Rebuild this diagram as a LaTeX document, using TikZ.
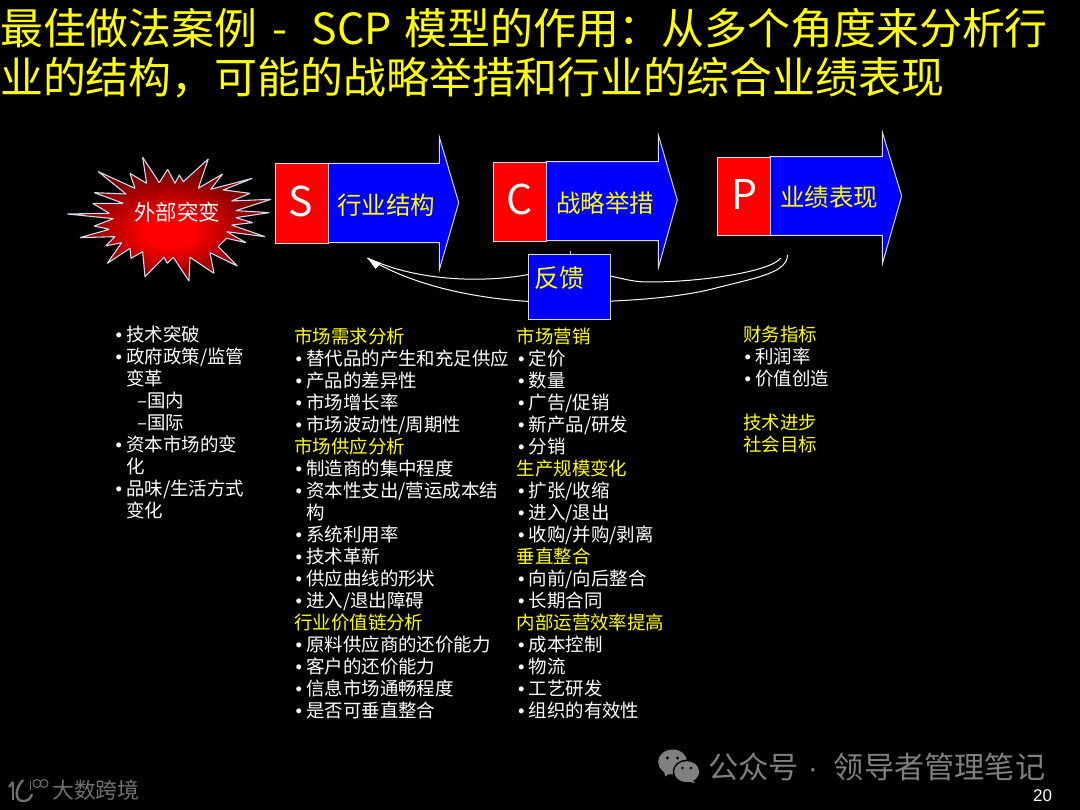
\documentclass[tikz,border=0pt]{standalone}
\usepackage{fontspec}
\setmainfont{Noto Sans CJK SC}
\newfontfamily\arialf{Liberation Sans}
\definecolor{ygl}{HTML}{FFFF00}
\definecolor{bluebg}{HTML}{0000FF}
\definecolor{edgeg}{HTML}{D8D8E8}
\definecolor{wmg}{HTML}{808080}
\definecolor{wmd}{HTML}{707070}
\definecolor{bursta}{RGB}{255,0,0}
\definecolor{burstb}{RGB}{130,0,0}
\definecolor{burstc}{RGB}{60,0,0}
\pgfdeclareradialshading{burstsh}{\pgfpoint{0bp}{-6bp}}{color(0bp)=(bursta);color(6bp)=(bursta);color(21bp)=(burstb);color(31bp)=(burstc);color(50bp)=(burstc)}
\newcommand{\bl}[1]{\makebox[12pt][l]{\hspace*{1.5pt}\textcolor{white}{\arialf•}}#1}
\newcommand{\hd}[1]{\textcolor{ygl}{#1}}
\newcommand{\cn}[1]{\hspace*{12pt}#1}
\tikzset{
 x=1pt,y=-1pt,
 arrowbody/.style={fill=bluebg,draw=edgeg,line width=1pt,line join=miter},
 letterbox/.style={fill=red,draw=edgeg,line width=1pt},
 letterlab/.style={text=white,font=\fontsize{41}{41}\selectfont,inner sep=0pt},
 armlab/.style={text=ygl,font=\fontsize{24.5}{26}\selectfont,inner sep=0pt},
 listcol/.style={text=white,anchor=north west,align=left,inner sep=0pt,font=\fontsize{18.45}{22}\selectfont},
 titleline/.style={text=ygl,anchor=west,inner sep=0pt,font=\fontsize{42.9}{44}\selectfont},
 curve/.style={draw=white,line width=1pt},
 wm/.style={text=wmg,inner sep=0pt},
}
\begin{document}
\begin{tikzpicture}
\useasboundingbox (0,0) rectangle (1080,810);
\fill[black] (0,0) rectangle (1080,810);
\node[titleline] (t1) at (0,28) {最佳做法案例\hspace*{5pt} - \hspace*{15pt}SCP\hspace*{3pt} 模型的作用：从多个角度来分析行};
\node[titleline] (t2) at (0,78) {业的结构，可能的战略举措和行业的综合业绩表现};
% burst
\begin{scope}[xshift=50pt,yshift=-120pt,x=0.3333pt,y=-0.3333pt]
\path[shade,shading=burstsh,draw=edgeg,line width=1.1pt,line join=bevel]
 (52,282)--(190,296)--(133,318)--(178,328)--(90,353)--(195,350)--(167,378)--(215,368)--(172,430)--(240,385)--(243,415)--(278,395)--(285,470)--(342,412)--(352,430)--(370,412)--(417,483)--(420,412)--(492,460)--(480,398)--(562,438)--(505,380)--(530,355)--(588,368)--(530,335)--(645,350)--(545,315)--(608,308)--(558,293)--(658,278)--(558,272)--(663,238)--(545,243)--(600,220)--(520,210)--(607,175)--(482,208)--(518,162)--(445,205)--(475,117)--(400,185)--(388,165)--(375,190)--(353,148)--(328,188)--(278,112)--(290,190)--(240,160)--(255,205)--(145,155)--(228,222)--(133,218)--(220,250)--(128,250)--(178,280)--cycle;
\end{scope}
\node[text=white,inner sep=0pt,font=\fontsize{21.5}{22}\selectfont] (burst) at (177,212) {外部突变};
% curves
\coordinate (tip) at (367.5,258);
\coordinate (ru) at (781,258);
\coordinate (rl) at (787.5,255);
\draw[curve] (tip) .. controls (425,285) and (500,282) .. (540,272) .. controls (600,266) and (620,283) .. (650,282) .. controls (700,282) and (770,272) .. (ru);
\draw[curve] (tip) .. controls (420,290) and (490,300) .. (540,302) .. controls (620,303) and (680,298) .. (720,287) .. controls (760,277) and (787,272) .. (rl);
\fill[white] (tip) -- (381,263) -- (375.5,269) -- cycle;
% S
\path[arrowbody] (327.7,163.3)--(439.3,163.3)--(439.3,137)--(458.7,202.7)--(439.3,270)--(439.3,242.7)--(327.7,242.7)--cycle;
\node[letterbox,minimum width=52.7pt,minimum height=79.4pt,anchor=north west,inner sep=0pt] (sbox) at (275,163.3) {};
\node[letterlab] (sl) at (300.5,201) {S};
\node[armlab] (sarm) at (386,205) {行业结构};
% C
\path[arrowbody] (546,161.7)--(658.3,161.7)--(658.3,135)--(677.3,200)--(658.3,268)--(658.3,240.7)--(546,240.7)--cycle;
\node[letterbox,minimum width=52.7pt,minimum height=79pt,anchor=north west,inner sep=0pt] (cbox) at (493.3,161.7) {};
\node[letterlab] (cl) at (520,199) {C};
\node[armlab] (carm) at (605,203) {战略举措};
% P
\path[arrowbody] (770,156.7)--(882.3,156.7)--(882.3,132)--(901.7,196)--(882.3,264)--(882.3,235.3)--(770,235.3)--cycle;
\node[letterbox,minimum width=52.7pt,minimum height=78.6pt,anchor=north west,inner sep=0pt] (pbox) at (717.3,156.7) {};
\node[letterlab] (pl) at (744,194) {P};
\node[armlab] (parm) at (829,197) {业绩表现};
% feedback
\draw[edgeg,line width=.8pt] (570.7,251.5)--(570.7,254);
\node[fill=bluebg,draw=edgeg,line width=1pt,anchor=north west,minimum width=82pt,minimum height=64.7pt,inner sep=0pt] (fb) at (528.3,254) {};
\node[text=ygl,inner sep=0pt,font=\fontsize{25}{26}\selectfont] (fbl) at (559.5,278) {反馈};
% lists
\node[listcol] (c1) at (114,326) {\bl{技术突破}\\\bl{政府政策/监管}\\\cn{变革}\\\hspace*{23pt}–国内\\\hspace*{23pt}–国际\\\bl{资本市场的变}\\\cn{化}\\\bl{品味/生活方式}\\\cn{变化}};
\node[listcol] (c2) at (294,328) {\hd{市场需求分析}\\\bl{替代品的产生和充足供应}\\\bl{产品的差异性}\\\bl{市场增长率}\\\bl{市场波动性/周期性}\\\hd{市场供应分析}\\\bl{制造商的集中程度}\\\bl{资本性支出/营运成本结}\\\cn{构}\\\bl{系统利用率}\\\bl{技术革新}\\\bl{供应曲线的形状}\\\bl{进入/退出障碍}\\\hd{行业价值链分析}\\\bl{原料供应商的还价能力}\\\bl{客户的还价能力}\\\bl{信息市场通畅程度}\\\bl{是否可垂直整合}};
\node[listcol] (c3) at (516.5,328) {\hd{市场营销}\\\bl{定价}\\\bl{数量}\\\bl{广告/促销}\\\bl{新产品/研发}\\\bl{分销}\\\hd{生产规模变化}\\\bl{扩张/收缩}\\\bl{进入/退出}\\\bl{收购/并购/剥离}\\\hd{垂直整合}\\\bl{向前/向后整合}\\\bl{长期合同}\\\hd{内部运营效率提高}\\\bl{成本控制}\\\bl{物流}\\\bl{工艺研发}\\\bl{组织的有效性}};
\node[listcol] (c4) at (743,326) {\hd{财务指标}\\\bl{利润率}\\\bl{价值创造}\\\mbox{}\\\hd{技术进步}\\\hd{社会目标}};
% watermarks
\draw[wmd,line width=2.6pt] (13,782)--(13,800);
\draw[wmd,line width=2.4pt] (9,787)--(13,782);
\draw[wmd,line width=2.4pt] (23,780) .. controls (15,788) and (14,802) .. (24,801) .. controls (28,801) and (31,798) .. (32,794);
\draw[wmd,line width=1pt] (30,781)--(30,790);
\draw[wmd,line width=1pt] (37,783.5) circle[radius=4];
\draw[wmd,line width=1pt] (44,783.5) circle[radius=4];
\node[wm,text=wmd,anchor=west,font=\fontsize{21.8}{22}\selectfont] (wm1) at (52,790) {大数跨境};
\fill[wmg] (672.7,762) ellipse[x radius=14.5,y radius=12.5];
\fill[wmg] (664,770)--(665,776.5)--(672,772)--cycle;
\fill[black] (686.7,771.7) ellipse[x radius=14,y radius=12];
\fill[wmg] (686.7,771.7) ellipse[x radius=12.5,y radius=10.5];
\fill[wmg] (692,779)--(695,783)--(685,781)--cycle;
\fill[black] (667.5,758) circle[radius=1.6] (677.5,758) circle[radius=1.6];
\fill[black] (682.5,768) circle[radius=1.4] (691,768) circle[radius=1.4];
\node[wm,anchor=west,font=\fontsize{30.2}{30}\selectfont] (wm2) at (708,767) {公众号\hspace*{11pt}\makebox[6pt][c]{\arialf·}\hspace*{18pt}领导者管理笔记};
\node[text=white,inner sep=0pt,font=\arialf\fontsize{17}{18}\selectfont] (pg) at (1042.5,796) {20};
\end{tikzpicture}
\end{document}
